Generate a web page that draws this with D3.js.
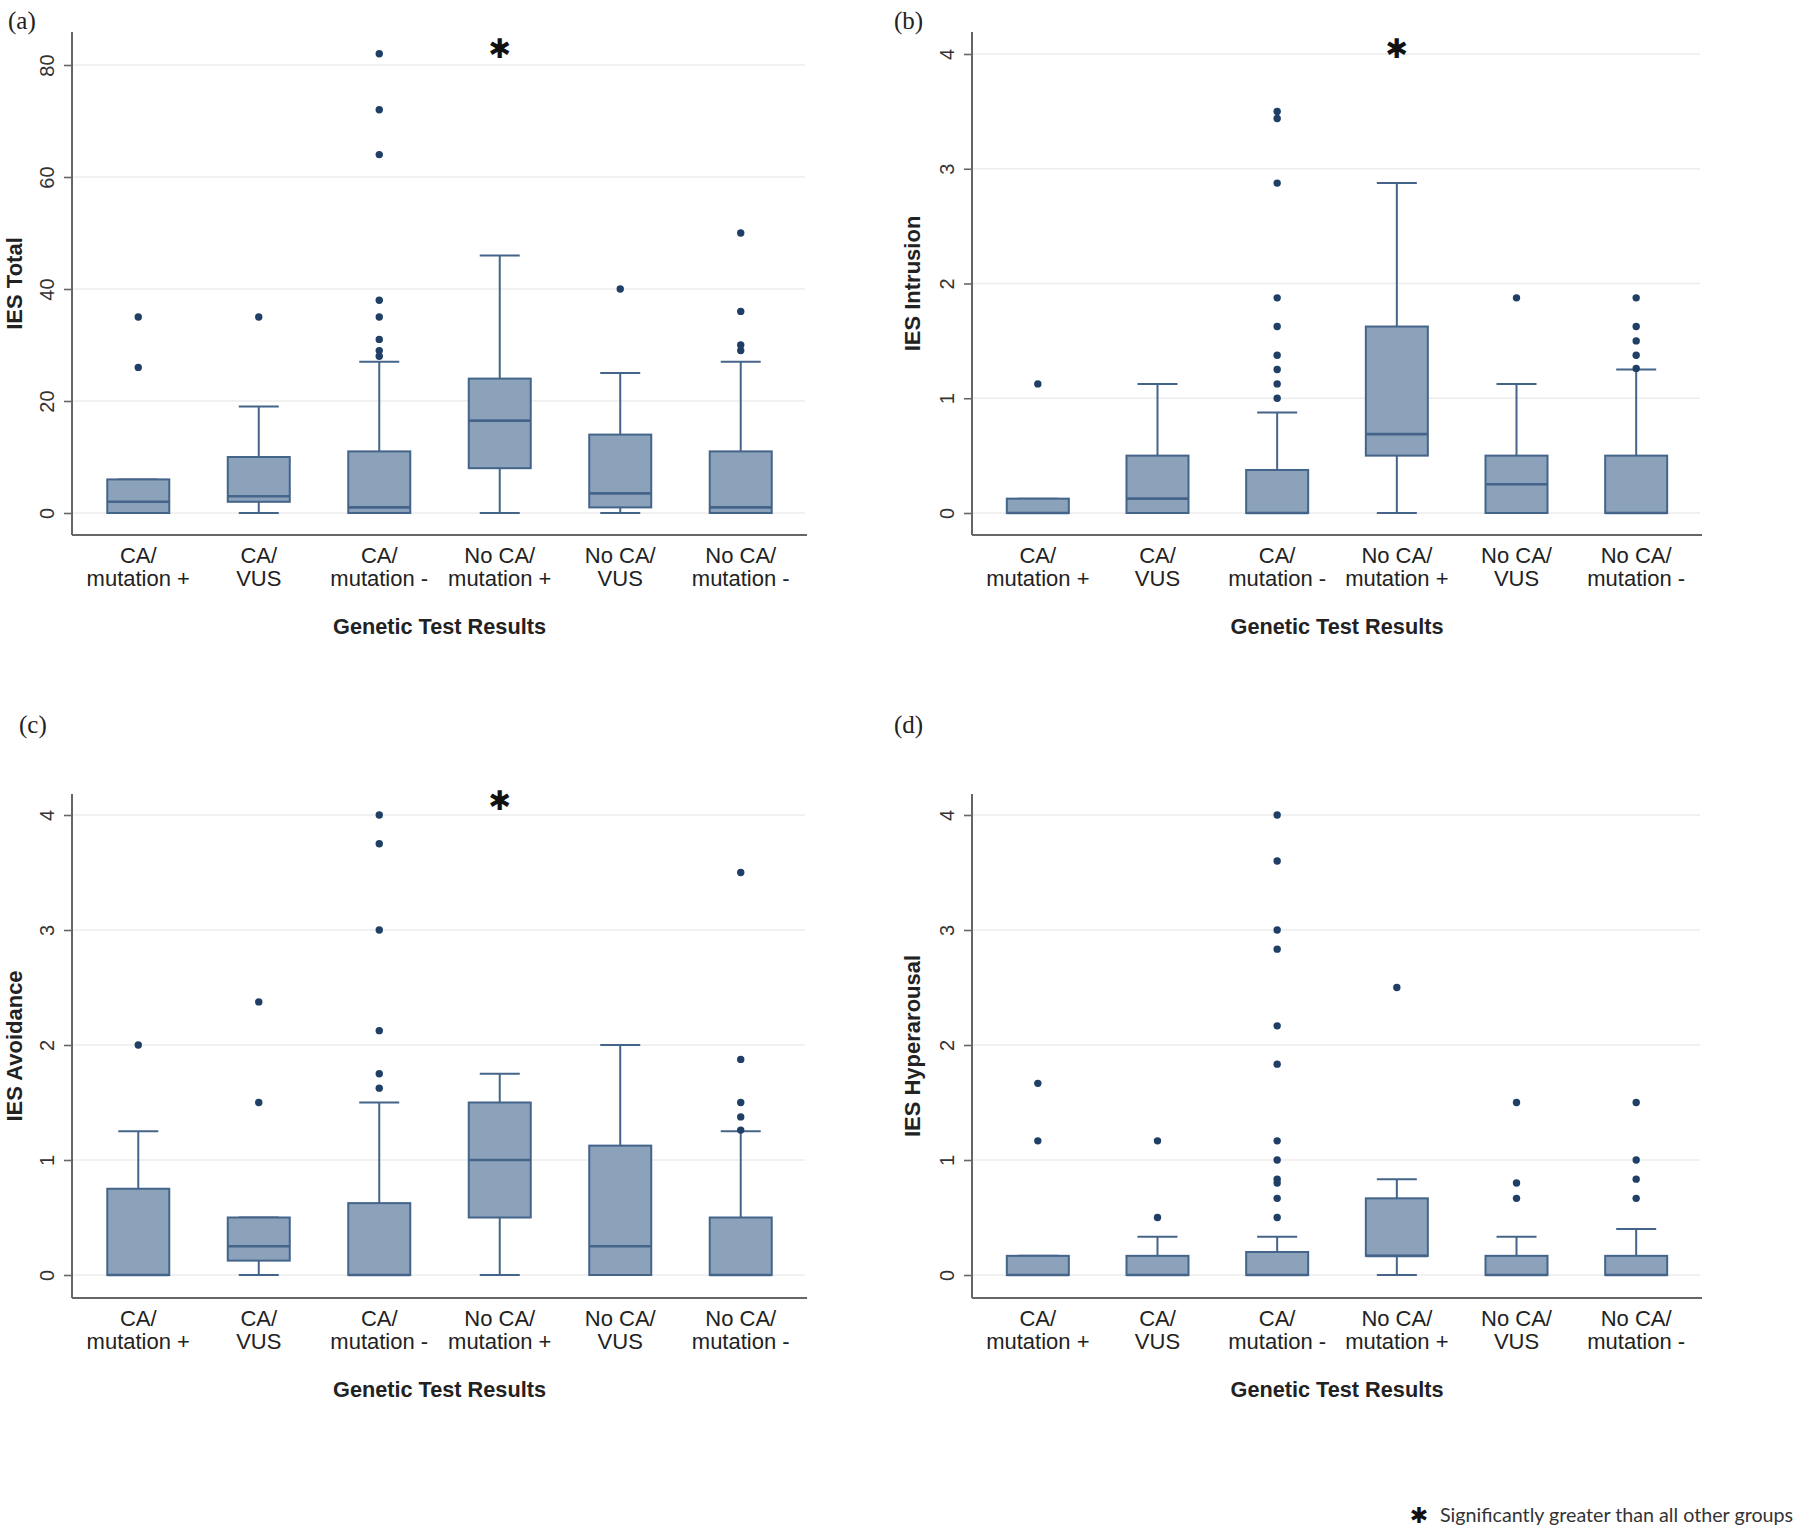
<!DOCTYPE html>
<html>
<head>
<meta charset="utf-8">
<script src="https://cdn.jsdelivr.net/npm/d3@7"></script>
<style>
  html, body { margin: 0; padding: 0; background: #fff; }
  svg { display: block; }
</style>
</head>
<body>
<svg id="chart" width="1800" height="1528"></svg>
<script>
// ---------- DATA ----------
const categories = ["CA/ mutation +", "CA/ VUS", "CA/ mutation -", "No CA/ mutation +", "No CA/ VUS", "No CA/ mutation -"];
const catLine1 = ["CA/", "CA/", "CA/", "No CA/", "No CA/", "No CA/"];
const catLine2 = ["mutation +", "VUS", "mutation -", "mutation +", "VUS", "mutation -"];
const xTitle = "Genetic Test Results";

// (a) IES Total
const totalTicks = [0, 20, 40, 60, 80];
const totalQ1  = [0, 2, 0, 8, 1, 0];
const totalMed = [2, 3, 1, 16.5, 3.5, 1];
const totalQ3  = [6, 10, 11, 24, 14, 11];
const totalLo  = [0, 0, 0, 0, 0, 0];
const totalHi  = [6, 19, 27, 46, 25, 27];
const totalOut = [[26, 35], [35], [28, 29, 31, 35, 38, 64, 72, 82], [], [40], [29, 30, 36, 50]];

// (b) IES Intrusion
const intrTicks = [0, 1, 2, 3, 4];
const intrQ1  = [0, 0, 0, 0.5, 0, 0];
const intrMed = [0, 0.125, 0, 0.6875, 0.25, 0];
const intrQ3  = [0.125, 0.5, 0.375, 1.625, 0.5, 0.5];
const intrLo  = [0, 0, 0, 0, 0, 0];
const intrHi  = [0.125, 1.125, 0.875, 2.875, 1.125, 1.25];
const intrOut = [[1.125], [], [1, 1.125, 1.25, 1.375, 1.625, 1.875, 2.875, 3.4375, 3.5], [], [1.875], [1.26, 1.375, 1.5, 1.625, 1.875]];

// (c) IES Avoidance
const avoidTicks = [0, 1, 2, 3, 4];
const avoidQ1  = [0, 0.125, 0, 0.5, 0, 0];
const avoidMed = [0, 0.25, 0, 1, 0.25, 0];
const avoidQ3  = [0.75, 0.5, 0.625, 1.5, 1.125, 0.5];
const avoidLo  = [0, 0, 0, 0, 0, 0];
const avoidHi  = [1.25, 0.5, 1.5, 1.75, 2, 1.25];
const avoidOut = [[2], [1.5, 2.375], [1.625, 1.75, 2.125, 3, 3.75, 4], [], [], [1.26, 1.375, 1.5, 1.875, 3.5]];

// (d) IES Hyperarousal
const hypTicks = [0, 1, 2, 3, 4];
const hypQ1  = [0, 0, 0, 0.1667, 0, 0];
const hypMed = [0, 0, 0, 0.1667, 0, 0];
const hypQ3  = [0.1667, 0.1667, 0.2, 0.6667, 0.1667, 0.1667];
const hypLo  = [0, 0, 0, 0, 0, 0];
const hypHi  = [0.1667, 0.3333, 0.3333, 0.8333, 0.3333, 0.4];
const hypOut = [[1.1667, 1.6667], [0.5, 1.1667], [0.5, 0.6667, 0.8, 0.8333, 1, 1.1667, 1.8333, 2.1667, 2.8333, 3, 3.6, 4], [2.5], [0.6667, 0.8, 1.5], [0.6667, 0.8333, 1, 1.5]];

const footnote = "Significantly greater than all other groups";

// ---------- STYLE ----------
const FILL = "#8ca2ba", STROKE = "#44648a", DOT = "#1f3f66";
const GRID = "#ececec", AXIS = "#666";
const SANS = "'Liberation Sans', Arial, sans-serif";
const SERIF = "'Liberation Serif', 'DejaVu Serif', serif";

const svg = d3.select("#chart");

function drawPanel(p) {
  const g = svg.append("g");
  const x = d3.scalePoint().domain(categories).range([p.x0, p.x1]).padding(0.55);
  const y = d3.scaleLinear().domain(p.domain).range([p.yZeroPx, p.yTopPx]);
  const yB = p.yBottom, yT = p.yTop;

  // gridlines
  g.selectAll(".grid").data(p.ticks).join("line")
    .attr("x1", p.x0).attr("x2", p.x1 - 2)
    .attr("y1", d => y(d)).attr("y2", d => y(d))
    .attr("stroke", GRID).attr("stroke-width", 1.6);

  // y axis
  const ya = g.append("g").attr("transform", `translate(${p.x0},0)`)
    .call(d3.axisLeft(y).tickValues(p.ticks).tickSize(8).tickPadding(6).tickFormat(d3.format("d")));
  ya.select(".domain").remove();
  ya.selectAll(".tick line").attr("stroke", AXIS).attr("stroke-width", 1.6);
  ya.selectAll(".tick text")
    .attr("x", null).attr("dy", null)
    .attr("transform", "translate(-25,0) rotate(-90)")
    .attr("text-anchor", "middle").attr("dominant-baseline", "central")
    .attr("font-family", SANS).attr("font-size", 20).attr("fill", "#333");
  // axis lines
  g.append("line").attr("x1", p.x0).attr("x2", p.x0).attr("y1", yT).attr("y2", yB)
    .attr("stroke", AXIS).attr("stroke-width", 2);
  g.append("line").attr("x1", p.x0).attr("x2", p.x1).attr("y1", yB).attr("y2", yB)
    .attr("stroke", AXIS).attr("stroke-width", 2);

  const idx = d3.range(categories.length);
  const bw = 62, cw = 40;
  // whiskers
  g.selectAll(".wh").data(idx).join("line")
    .attr("x1", i => x(categories[i])).attr("x2", i => x(categories[i]))
    .attr("y1", i => y(p.hi[i])).attr("y2", i => y(p.q3[i]))
    .attr("stroke", STROKE).attr("stroke-width", 2);
  g.selectAll(".wl").data(idx).join("line")
    .attr("x1", i => x(categories[i])).attr("x2", i => x(categories[i]))
    .attr("y1", i => y(p.lo[i])).attr("y2", i => y(p.q1[i]))
    .attr("stroke", STROKE).attr("stroke-width", 2);
  g.selectAll(".ch").data(idx).join("line")
    .attr("x1", i => x(categories[i]) - cw / 2).attr("x2", i => x(categories[i]) + cw / 2)
    .attr("y1", i => y(p.hi[i])).attr("y2", i => y(p.hi[i]))
    .attr("stroke", STROKE).attr("stroke-width", 2);
  g.selectAll(".cl").data(idx).join("line")
    .attr("x1", i => x(categories[i]) - cw / 2).attr("x2", i => x(categories[i]) + cw / 2)
    .attr("y1", i => y(p.lo[i])).attr("y2", i => y(p.lo[i]))
    .attr("stroke", STROKE).attr("stroke-width", 2);
  // boxes
  g.selectAll(".box").data(idx).join("rect")
    .attr("x", i => x(categories[i]) - bw / 2).attr("width", bw)
    .attr("y", i => y(p.q3[i])).attr("height", i => Math.max(0.5, y(p.q1[i]) - y(p.q3[i])))
    .attr("fill", FILL).attr("stroke", STROKE).attr("stroke-width", 2);
  // medians
  g.selectAll(".med").data(idx).join("line")
    .attr("x1", i => x(categories[i]) - bw / 2).attr("x2", i => x(categories[i]) + bw / 2)
    .attr("y1", i => y(p.med[i])).attr("y2", i => y(p.med[i]))
    .attr("stroke", STROKE).attr("stroke-width", 2.6);
  // outliers
  const pts = [];
  idx.forEach(i => p.out[i].forEach(v => pts.push({ c: categories[i], v })));
  g.selectAll(".pt").data(pts).join("circle")
    .attr("cx", d => x(d.c)).attr("cy", d => y(d.v)).attr("r", 3.7)
    .attr("fill", DOT);

  // category labels
  const cl = g.selectAll(".cat").data(idx).join("text")
    .attr("text-anchor", "middle").attr("font-family", SANS).attr("font-size", 22)
    .attr("fill", "#222");
  cl.append("tspan").attr("x", i => x(categories[i])).attr("y", yB + 28).text(i => catLine1[i]);
  cl.append("tspan").attr("x", i => x(categories[i])).attr("y", yB + 51).text(i => catLine2[i]);

  // axis titles
  g.append("text").attr("x", (p.x0 + p.x1) / 2).attr("y", yB + 99)
    .attr("text-anchor", "middle").attr("font-family", SANS).attr("font-weight", "bold")
    .attr("font-size", 21.7).attr("fill", "#222").text(xTitle);
  g.append("text").attr("transform", `translate(${p.titleX},${(yT + yB) / 2}) rotate(-90)`)
    .attr("text-anchor", "middle").attr("dominant-baseline", "central")
    .attr("font-family", SANS).attr("font-weight", "bold").attr("font-size", 22)
    .attr("fill", "#222").text(p.yTitle);

  // panel letter
  g.append("text").attr("x", p.letterX).attr("y", p.letterY)
    .attr("font-family", SERIF).attr("font-size", 25).attr("fill", "#222").text(p.letter);

  // significance star
  if (p.star) {
    g.append("text").attr("x", x(categories[3])).attr("y", p.starY)
      .attr("text-anchor", "middle").attr("dominant-baseline", "central")
      .attr("font-family", "'DejaVu Sans', sans-serif").attr("font-size", 27)
      .attr("fill", "#111").text("\u2731");
  }
}

const topRow = { yTop: 32, yBottom: 535 };
const botRow = { yTop: 794, yBottom: 1298 };

drawPanel({ ...topRow, x0: 72, x1: 807, yZeroPx: 513, yTopPx: 65, domain: [0, 80],
  ticks: totalTicks, q1: totalQ1, med: totalMed, q3: totalQ3, lo: totalLo, hi: totalHi, out: totalOut,
  yTitle: "IES Total", titleX: 14, letter: "(a)", letterX: 8, letterY: 29, star: true, starY: 48 });

drawPanel({ ...topRow, x0: 972, x1: 1702, yZeroPx: 513, yTopPx: 54, domain: [0, 4],
  ticks: intrTicks, q1: intrQ1, med: intrMed, q3: intrQ3, lo: intrLo, hi: intrHi, out: intrOut,
  yTitle: "IES Intrusion", titleX: 912, letter: "(b)", letterX: 894, letterY: 29, star: true, starY: 48 });

drawPanel({ ...botRow, x0: 72, x1: 807, yZeroPx: 1275, yTopPx: 815, domain: [0, 4],
  ticks: avoidTicks, q1: avoidQ1, med: avoidMed, q3: avoidQ3, lo: avoidLo, hi: avoidHi, out: avoidOut,
  yTitle: "IES Avoidance", titleX: 14, letter: "(c)", letterX: 19, letterY: 733, star: true, starY: 800 });

drawPanel({ ...botRow, x0: 972, x1: 1702, yZeroPx: 1275, yTopPx: 815, domain: [0, 4],
  ticks: hypTicks, q1: hypQ1, med: hypMed, q3: hypQ3, lo: hypLo, hi: hypHi, out: hypOut,
  yTitle: "IES Hyperarousal", titleX: 912, letter: "(d)", letterX: 894, letterY: 733, star: false });

// footnote
svg.append("text").attr("x", 1419).attr("y", 1515)
  .attr("text-anchor", "middle").attr("dominant-baseline", "central")
  .attr("font-family", "'DejaVu Sans', sans-serif").attr("font-size", 22).attr("fill", "#111").text("\u2731");
svg.append("text").attr("x", 1440).attr("y", 1522)
  .attr("font-family", "Lato, 'Open Sans', sans-serif").attr("font-size", 19.7).attr("fill", "#333")
  .text(footnote);
</script>
</body>
</html>
